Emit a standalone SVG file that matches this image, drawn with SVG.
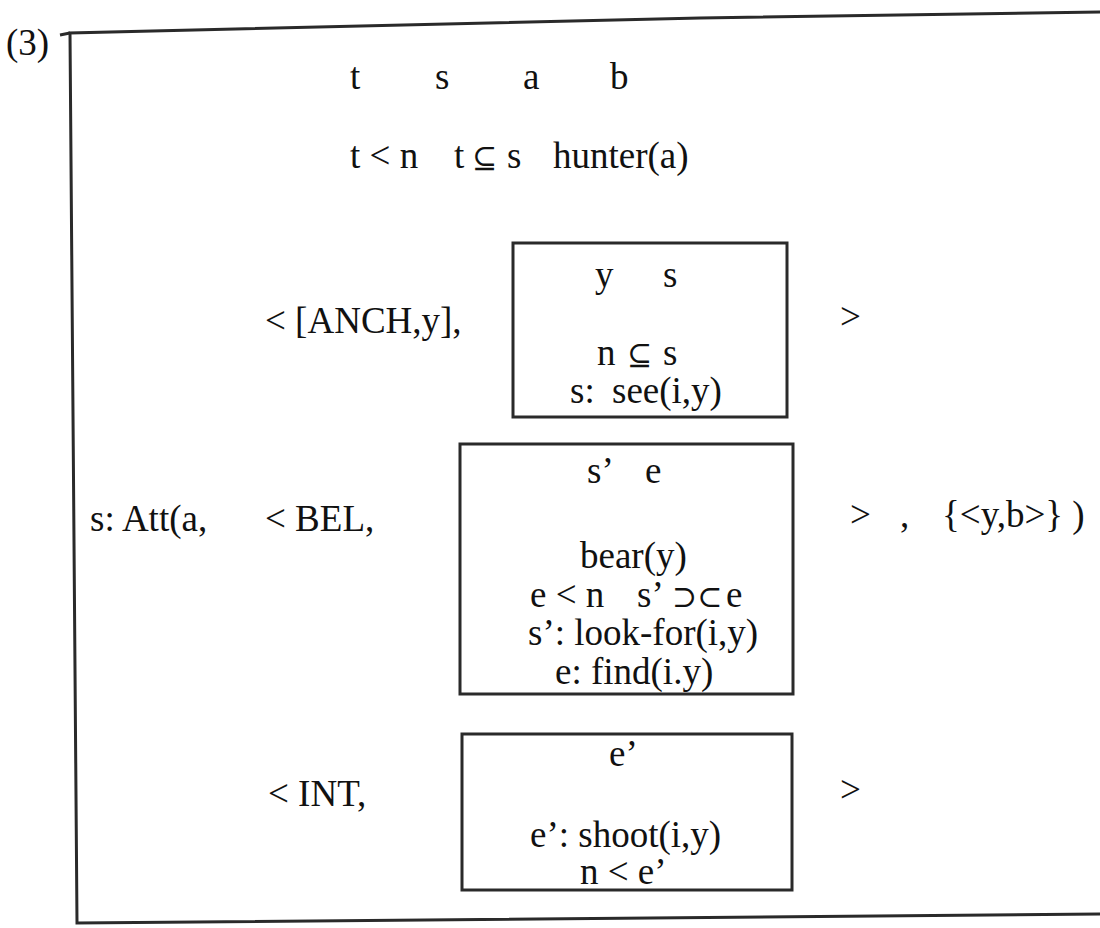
<svg xmlns="http://www.w3.org/2000/svg" width="1100" height="928" viewBox="0 0 1100 928">
<style>
text{font-family:"Liberation Serif","Times New Roman",serif;font-size:37px;fill:#111}
.sym{font-family:"DejaVu Serif","Liberation Serif",serif;font-size:30px}
.box{fill:none;stroke:#2a2a2a;stroke-width:3}
</style>
<rect width="1100" height="928" fill="#fff"/>
<g id="label"><text x="6" y="55">(3)</text></g>
<g id="outer">
<path class="box" d="M1100,12 L700,18 L70,33 L77,923 L1100,914"/>
<path class="box" d="M60,35 L70,33" stroke-width="2"/>
<text x="350" y="89">t</text><text x="435" y="89">s</text><text x="523" y="89">a</text><text x="610" y="89">b</text>
<text x="350" y="168">t &lt; n</text><text x="454" y="168">t</text><text class="sym" x="472" y="168">⊆</text><text x="507" y="168">s</text><text x="553" y="168">hunter(a)</text>
<text x="90" y="531">s: Att(a,</text>
</g>
<g id="anch">
<text x="265" y="333">&lt; [ANCH,y],</text>
<rect class="box" x="513" y="243" width="274" height="174"/>
<text x="595" y="287">y</text><text x="663" y="287">s</text>
<text x="597" y="365">n</text><text class="sym" x="627" y="365">⊆</text><text x="663" y="365">s</text>
<text x="570" y="403">s:</text><text x="612" y="403">see(i,y)</text>
<text x="840" y="329">&gt;</text>
</g>
<g id="bel">
<text x="265" y="531">&lt; BEL,</text>
<rect class="box" x="460" y="444" width="333" height="250"/>
<text x="587" y="483">s’</text><text x="645" y="483">e</text>
<text x="580" y="568">bear(y)</text>
<text x="530" y="607">e &lt; n</text><text x="637" y="607">s’</text><text class="sym" x="672" y="607">⊃⊂</text><text x="726" y="607">e</text>
<text x="528" y="645">s’: look-for(i,y)</text>
<text x="555" y="684">e: find(i.y)</text>
<text x="850" y="527">&gt;</text><text x="900" y="527">,</text>
<text x="942" y="527">{&lt;y,b&gt;} )</text>
</g>
<g id="int">
<text x="268" y="806">&lt; INT,</text>
<rect class="box" x="462" y="734" width="330" height="156"/>
<text x="609" y="766">e’</text>
<text x="530" y="847">e’: shoot(i,y)</text>
<text x="580" y="884" font-size="35">n &lt; e’</text>
<text x="840" y="802">&gt;</text>
</g>
</svg>
